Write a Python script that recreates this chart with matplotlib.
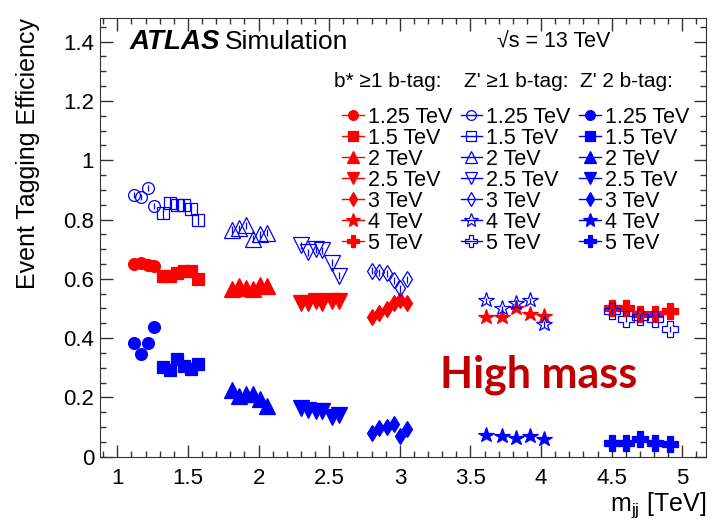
import numpy as np
import matplotlib.pyplot as plt
from matplotlib.lines import Line2D
from matplotlib.ticker import MultipleLocator

plt.rcParams['font.family'] = ['Liberation Sans', 'DejaVu Sans']

# signal mass points and the mjj positions of their efficiency points
mass_labels = ['1.25 TeV', '1.5 TeV', '2 TeV', '2.5 TeV', '3 TeV', '4 TeV', '5 TeV']
mjj = [
    [1.12, 1.17, 1.22, 1.26],
    [1.32, 1.37, 1.42, 1.47, 1.52, 1.57],
    [1.81, 1.86, 1.91, 1.96, 2.01, 2.06],
    [2.30, 2.35, 2.41, 2.45, 2.52, 2.57],
    [2.80, 2.85, 2.91, 2.96, 3.00, 3.05],
    [3.61, 3.72, 3.82, 3.92, 4.02],
    [4.50, 4.60, 4.70, 4.81, 4.91],
]

# b* >=1 b-tag
eff_bstar = [
    [0.649, 0.655, 0.645, 0.642],
    [0.61, 0.61, 0.62, 0.625, 0.625, 0.60],
    [0.565, 0.575, 0.57, 0.565, 0.58, 0.575],
    [0.52, 0.52, 0.525, 0.52, 0.525, 0.525],
    [0.47, 0.486, 0.497, 0.517, 0.53, 0.517],
    [0.47, 0.47, 0.50, 0.483, 0.476],
    [0.503, 0.50, 0.483, 0.483, 0.493],
]
# Z' >=1 b-tag
eff_z1 = [
    [0.882, 0.875, 0.905, 0.845],
    [0.821, 0.855, 0.848, 0.848, 0.834, 0.80],
    [0.765, 0.77, 0.78, 0.735, 0.75, 0.755],
    [0.713, 0.689, 0.70, 0.696, 0.655, 0.61],
    [0.628, 0.622, 0.618, 0.595, 0.568, 0.598],
    [0.527, 0.50, 0.52, 0.527, 0.449],
    [0.493, 0.466, 0.47, 0.466, 0.432],
]
# Z' 2 b-tag
eff_z2 = [
    [0.382, 0.345, 0.382, 0.436],
    [0.304, 0.294, 0.328, 0.307, 0.297, 0.314],
    [0.226, 0.206, 0.213, 0.213, 0.196, 0.172],
    [0.166, 0.159, 0.155, 0.155, 0.135, 0.142],
    [0.081, 0.098, 0.101, 0.111, 0.071, 0.095],
    [0.074, 0.071, 0.064, 0.071, 0.061],
    [0.047, 0.047, 0.061, 0.047, 0.044],
]
err_bstar = [0.008, 0.008, 0.008, 0.008, 0.008, 0.008, 0.008]
err_z1 = [0.01, 0.02, 0.012, 0.012, 0.012, 0.01, 0.01]
err_z2 = [0.02, 0.02, 0.01, 0.01, 0.01, 0.006, 0.006]

markers = ['o', 's', '^', 'v', 'd', '*', 'P']
msizes = [8.5, 8, 11, 11, 8.5, 11.5, 11]
leg_sizes = [7, 6.5, 9, 9, 7.5, 10, 9]

samples = [
    ("b* \u22651 b-tag:", eff_bstar, err_bstar, 'red', True),
    ("Z' \u22651 b-tag:", eff_z1, err_z1, 'blue', False),
    ("Z' 2 b-tag:", eff_z2, err_z2, 'blue', True),
]

fig = plt.figure(figsize=(7.12, 5.25), dpi=100)
ax = fig.add_axes([0.140, 0.130, 0.852, 0.836])

handles = []
for title, eff, err, color, filled in samples:
    for i in range(len(mass_labels)):
        fc = color if filled else 'none'
        ax.errorbar(mjj[i], eff[i], yerr=err[i], fmt=markers[i], color=color,
                    mfc=fc, mec=color, ms=msizes[i], mew=0.9, elinewidth=0.9,
                    capsize=0, zorder=3 if filled else 4)
        handles.append(Line2D([], [], color=color, lw=1, marker=markers[i],
                              mfc=fc, mec=color, ms=leg_sizes[i], mew=0.9,
                              label=mass_labels[i]))

ax.set_xlim(0.875, 5.17)
ax.set_ylim(0, 1.48)
ax.xaxis.set_minor_locator(MultipleLocator(0.1))
ax.yaxis.set_minor_locator(MultipleLocator(0.05))
ax.set_yticks(np.arange(0, 1.41, 0.2))
ax.set_yticklabels(['0', '0.2', '0.4', '0.6', '0.8', '1', '1.2', '1.4'])
ax.set_xticks(np.arange(1, 5.01, 0.5))
ax.set_xticklabels(['1', '1.5', '2', '2.5', '3', '3.5', '4', '4.5', '5'])
ax.tick_params(which='both', direction='in', top=True, right=True,
               labelsize=16, color='#333333')
ax.tick_params(which='major', length=9, width=1)
ax.tick_params(which='minor', length=4.5, width=1)
ax.tick_params(axis='x', pad=8)
ax.tick_params(axis='y', pad=4)
for s in ax.spines.values():
    s.set_color('#333333')

ax.set_ylabel('Event Tagging Efficiency', fontsize=18, loc='top', labelpad=17)
ax.set_xlabel('m$_{\\mathregular{jj}}$ [TeV]', fontsize=18, loc='right',
              labelpad=1)

ax.text(0.05, 0.945, 'ATLAS', transform=ax.transAxes, fontsize=20,
        fontweight='bold', fontstyle='italic', va='center')
ax.text(0.206, 0.945, 'Simulation', transform=ax.transAxes, fontsize=19,
        va='center')
ax.text(0.655, 0.945, '\u221as = 13 TeV', transform=ax.transAxes,
        fontsize=15.5, va='center')

# column headers above the legend
for xpos, (title, *_rest) in zip([0.387, 0.600, 0.792], samples):
    ax.text(xpos, 0.855, title, transform=ax.transAxes, fontsize=15,
            va='center')

ax.legend(handles=handles, ncol=3, loc='upper left',
          bbox_to_anchor=(0.40, 0.797), frameon=False, fontsize=15.5,
          handlelength=1.0, handletextpad=0.18, columnspacing=0.4,
          labelspacing=0.0, borderpad=0, borderaxespad=0)

ax.text(0.723, 0.187, 'High mass', transform=ax.transAxes, fontsize=31,
        fontweight='bold', color='#C00000', ha='center', va='center',
        family=['Lato', 'DejaVu Sans'])

fig.savefig('out.png', dpi=100)
